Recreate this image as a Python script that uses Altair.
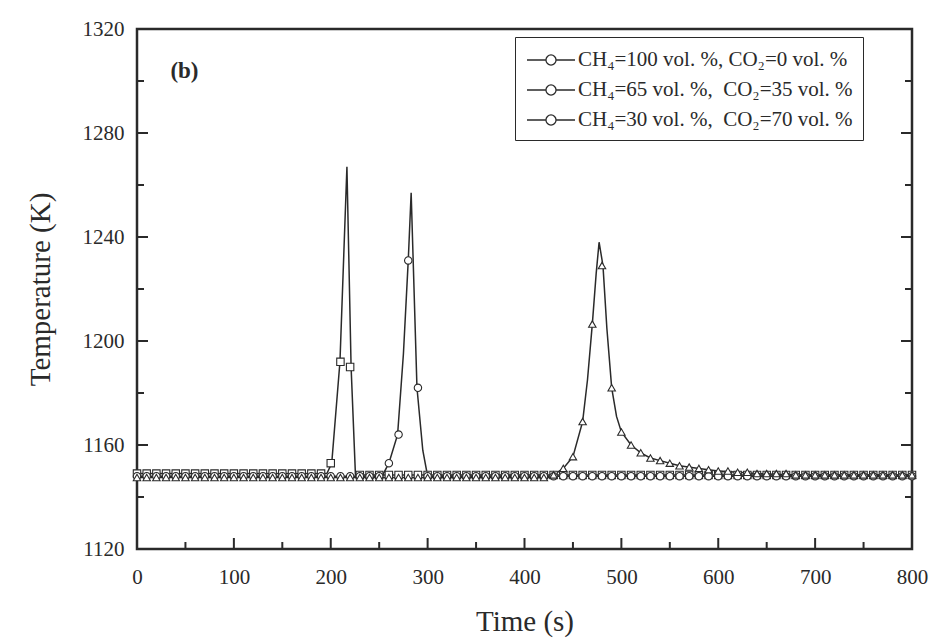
import altair as alt
import pandas as pd

# ---------------- data ----------------
series_names = [
    "CH\u2084=100 vol. %, CO\u2082=0 vol. %",
    "CH\u2084=65 vol. %,\u00a0\u00a0CO\u2082=35 vol. %",
    "CH\u2084=30 vol. %,\u00a0\u00a0CO\u2082=70 vol. %",
]
series_ids = ["s1", "s2", "s3"]

# marker grid (s)
marker_time = [0, 10, 20, 30, 40, 50, 60, 70, 80, 90, 100, 110, 120, 130, 140, 150, 160, 170, 180, 190,
               200, 210, 220, 230, 240, 250, 260, 270, 280, 290, 300, 310, 320, 330, 340, 350, 360, 370, 380, 390,
               400, 410, 420, 430, 440, 450, 460, 470, 480, 490, 500, 510, 520, 530, 540, 550, 560, 570, 580, 590,
               600, 610, 620, 630, 640, 650, 660, 670, 680, 690, 700, 710, 720, 730, 740, 750, 760, 770, 780, 790,
               800]

marker_s1 = [1149, 1149, 1149, 1149, 1149, 1149, 1149, 1149, 1149, 1149, 1149, 1149, 1149, 1149, 1149, 1149, 1149, 1149, 1149, 1149,
             1153, 1192, 1190, 1148.5, 1148.5, 1148.5, 1148.5, 1148.5, 1148.5, 1148.5, 1148.5, 1148.5, 1148.5, 1148.5, 1148.5, 1148.5, 1148.5, 1148.5, 1148.5, 1148.5,
             1148.5, 1148.5, 1148.5, 1148.5, 1148.5, 1148.5, 1148.5, 1148.5, 1148.5, 1148.5, 1148.5, 1148.5, 1148.5, 1148.5, 1148.5, 1148.5, 1148.5, 1148.5, 1148.5, 1148.5,
             1148.5, 1148.5, 1148.5, 1148.5, 1148.5, 1148.5, 1148.5, 1148.5, 1148.5, 1148.5, 1148.5, 1148.5, 1148.5, 1148.5, 1148.5, 1148.5, 1148.5, 1148.5, 1148.5, 1148.5,
             1148.5]

marker_s2 = [1148, 1148, 1148, 1148, 1148, 1148, 1148, 1148, 1148, 1148, 1148, 1148, 1148, 1148, 1148, 1148, 1148, 1148, 1148, 1148,
             1148, 1148, 1148, 1148, 1148, 1148, 1153, 1164, 1231, 1182, 1148, 1148, 1148, 1148, 1148, 1148, 1148, 1148, 1148, 1148,
             1148, 1148, 1148, 1148, 1148, 1148, 1148, 1148, 1148, 1148, 1148, 1148, 1148, 1148, 1148, 1148, 1148, 1148, 1148, 1148,
             1148, 1148, 1148, 1148, 1148, 1148, 1148, 1148, 1148, 1148, 1148, 1148, 1148, 1148, 1148, 1148, 1148, 1148, 1148, 1148,
             1148]

marker_s3 = [1147.5, 1147.5, 1147.5, 1147.5, 1147.5, 1147.5, 1147.5, 1147.5, 1147.5, 1147.5, 1147.5, 1147.5, 1147.5, 1147.5, 1147.5, 1147.5, 1147.5, 1147.5, 1147.5, 1147.5,
             1147.5, 1147.5, 1147.5, 1147.5, 1147.5, 1147.5, 1147.5, 1147.5, 1147.5, 1147.5, 1147.5, 1147.5, 1147.5, 1147.5, 1147.5, 1147.5, 1147.5, 1147.5, 1147.5, 1147.5,
             1147.5, 1147.5, 1147.5, 1148.5, 1151, 1155.5, 1169, 1206.5, 1229, 1182, 1165, 1160, 1157, 1155, 1154, 1153, 1152, 1151.5, 1151, 1150.5,
             1150, 1150, 1149.5, 1149.5, 1149, 1149, 1149, 1149, 1148.5, 1148.5, 1148.5, 1148.5, 1148.5, 1148.5, 1148.5, 1148.5, 1148.5, 1148.5, 1148.5, 1148.5,
             1148.5]

# line traces (finer near the peaks)
line_t1 = [0, 196, 201, 209.5, 216.7, 221, 225.5, 800]
line_T1 = [1149, 1149, 1153, 1192, 1267, 1190, 1148.5, 1148.5]

line_t2 = [0, 253, 260, 269, 275, 280, 283, 289, 295, 300, 800]
line_T2 = [1148, 1148, 1153, 1164, 1195, 1231, 1257, 1182, 1158, 1148, 1148]

line_t3 = [0, 425, 430, 440, 450, 460, 465, 470, 474, 477, 481, 485, 490, 495, 500, 510, 520, 530,
           540, 550, 560, 580, 600, 620, 640, 680, 800]
line_T3 = [1147.5, 1147.5, 1148.5, 1151, 1155.5, 1169, 1185, 1206.5, 1226, 1238, 1229, 1205, 1182, 1171,
           1165, 1160, 1157, 1155, 1154, 1153, 1152, 1151, 1150, 1149.5, 1149, 1148.5, 1148.5]

x_major = [0, 100, 200, 300, 400, 500, 600, 700, 800]
x_minor = [50, 150, 250, 350, 450, 550, 650, 750]
y_major = [1120, 1160, 1200, 1240, 1280, 1320]
y_minor = [1140, 1180, 1220, 1260, 1300]

panel_label = ["(b)"]
panel_label_time = [49]
panel_label_temp = [1304]

# ---------------- tables ----------------
line_df = pd.concat([
    pd.DataFrame({"time": line_t1, "temp": line_T1, "legend_series": series_names[0]}),
    pd.DataFrame({"time": line_t2, "temp": line_T2, "legend_series": series_names[1]}),
    pd.DataFrame({"time": line_t3, "temp": line_T3, "legend_series": series_names[2]}),
], ignore_index=True)

marker_df = pd.concat([
    pd.DataFrame({"time": marker_time, "temp": marker_s1, "sid": series_ids[0]}),
    pd.DataFrame({"time": marker_time, "temp": marker_s2, "sid": series_ids[1]}),
    pd.DataFrame({"time": marker_time, "temp": marker_s3, "sid": series_ids[2]}),
], ignore_index=True)

xmaj_df = pd.DataFrame({"time": x_major})
xmin_df = pd.DataFrame({"time": x_minor})
ymaj_df = pd.DataFrame({"temp": y_major})
ymin_df = pd.DataFrame({"temp": y_minor})
label_df = pd.DataFrame({"time": panel_label_time, "temp": panel_label_temp, "txt": panel_label})

# ---------------- encodings ----------------
W, H = 775, 520
FONT = "Liberation Serif"
INK = "#2a2a2a"

x_axis = alt.Axis(values=x_major, ticks=False, domain=False, grid=False, labelFlush=False,
                  format="d",
                  labelFont=FONT, labelFontSize=21, labelColor=INK, labelPadding=17,
                  title="Time (s)", titleFont=FONT, titleFontSize=29, titleFontWeight="normal",
                  titleColor=INK, titlePadding=20)
y_axis = alt.Axis(values=y_major, ticks=False, domain=False, grid=False, format="d",
                  labelFont=FONT, labelFontSize=21, labelColor=INK, labelPadding=13,
                  title="Temperature (K)", titleFont=FONT, titleFontSize=29, titleFontWeight="normal",
                  titleColor=INK, titlePadding=27)

X = alt.X("time:Q", scale=alt.Scale(domain=[0, 800], nice=False), axis=x_axis)
Y = alt.Y("temp:Q", scale=alt.Scale(domain=[1120, 1320], nice=False, zero=False), axis=y_axis)

legend_path = "M-2,0H-0.42M0.42,0H2M-0.42,0A0.42,0.42 0 1,0 0.42,0A0.42,0.42 0 1,0 -0.42,0Z"

lines = alt.Chart(line_df).mark_line(strokeWidth=1.5, clip=True).encode(
    x=X, y=Y,
    stroke=alt.Stroke("legend_series:N",
                      scale=alt.Scale(domain=series_names, range=[INK, INK, INK]),
                      legend=alt.Legend(title=None, orient="none", legendX=378, legendY=8,
                                        symbolType=legend_path, symbolSize=576,
                                        symbolStrokeColor=INK, symbolFillColor="white",
                                        symbolStrokeWidth=1.3, symbolOffset=13,
                                        labelFont=FONT, labelFontSize=21, labelColor=INK,
                                        labelOffset=14, labelLimit=400,
                                        rowPadding=7, padding=10, strokeColor=INK,
                                        fillColor="white")),
    order=alt.Order("time:Q"),
)

markers = alt.Chart(marker_df).mark_point(filled=True, fill="white", stroke=INK, strokeWidth=1.1,
                                          size=55, opacity=1).encode(
    x=X, y=Y,
    shape=alt.Shape("sid:N",
                    scale=alt.Scale(domain=series_ids, range=["square", "circle", "triangle-up"]),
                    legend=None),
)

tick_col = INK
xmaj_b = alt.Chart(xmaj_df).mark_rule(color=tick_col, strokeWidth=2).encode(
    x=X, y=alt.value(H), y2=alt.value(H - 11))
xmin_b = alt.Chart(xmin_df).mark_rule(color=tick_col, strokeWidth=2).encode(
    x=X, y=alt.value(H), y2=alt.value(H - 7))
ymaj_l = alt.Chart(ymaj_df).mark_rule(color=tick_col, strokeWidth=2).encode(
    y=Y, x=alt.value(0), x2=alt.value(11))
ymin_l = alt.Chart(ymin_df).mark_rule(color=tick_col, strokeWidth=2).encode(
    y=Y, x=alt.value(0), x2=alt.value(7))
ymaj_r = alt.Chart(ymaj_df).mark_rule(color=tick_col, strokeWidth=2).encode(
    y=Y, x=alt.value(W), x2=alt.value(W - 11))
ymin_r = alt.Chart(ymin_df).mark_rule(color=tick_col, strokeWidth=2).encode(
    y=Y, x=alt.value(W), x2=alt.value(W - 7))

label = alt.Chart(label_df).mark_text(font=FONT, fontSize=23, color=INK, fontWeight="bold").encode(
    x=X, y=Y, text="txt:N")

chart = alt.layer(
    lines, markers, xmaj_b, xmin_b, ymaj_l, ymin_l, ymaj_r, ymin_r, label
).properties(
    width=W, height=H,
    autosize=alt.AutoSizeParams(type="none"),
    padding={"left": 137, "top": 29, "right": 25, "bottom": 94},
    background="white",
).configure_view(
    stroke=INK, strokeWidth=2.5
)

chart.save("out.html", embed_options={"renderer": "svg", "actions": False})
